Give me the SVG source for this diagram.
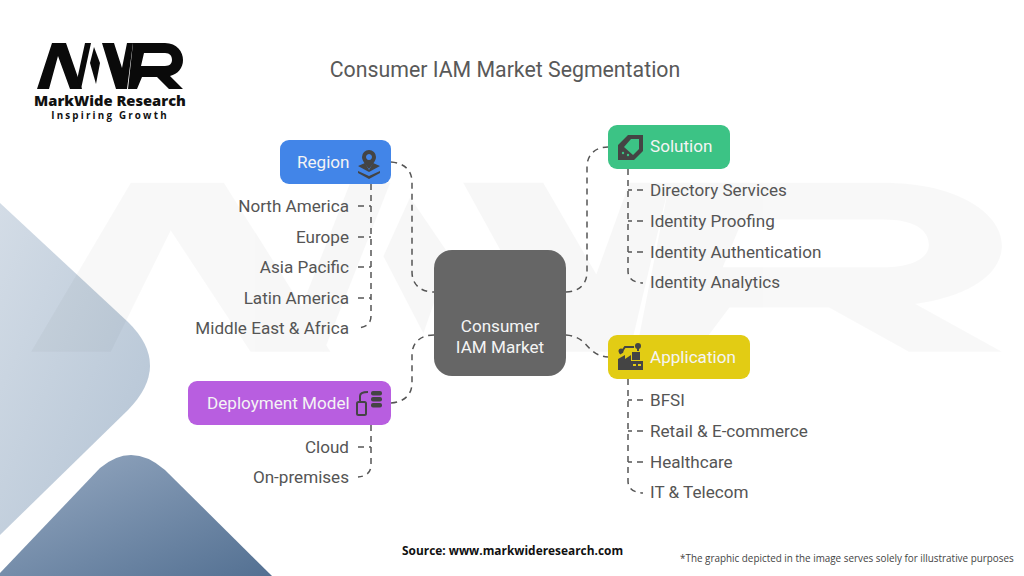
<svg xmlns="http://www.w3.org/2000/svg" width="1024" height="576" viewBox="0 0 1024 576">
<style>
text{font-family:Roboto,"Liberation Sans",sans-serif}
.lab{font-size:17.1px;fill:#555}
.r{text-anchor:end}
.hd{font-size:17.1px;fill:#f4f4f4}
.c{stroke:#555;stroke-width:1.5;fill:none;stroke-dasharray:6 5}
.i{fill:#444}
.is{fill:none;stroke:#444;stroke-width:2}
</style>
<defs>
<linearGradient id="g1" x1="0" y1="0" x2="1" y2="1"><stop offset="0" stop-color="#d3dce6"/><stop offset="1" stop-color="#b3c3d4"/></linearGradient>
<linearGradient id="g2" x1="0" y1="0" x2="1" y2="1"><stop offset="0" stop-color="#97aac2"/><stop offset="1" stop-color="#537092"/></linearGradient>
<g id="mark">
<path d="M37 89L52 43H66L82 89H70L58 56L49 89Z"/>
<path d="M77 80L85 43H91L81 89Z"/>
<path d="M94 47L100 63L96 84L90 63Z"/>
<path d="M102 43H114L122 68L127 43H133L127 89H116Z"/>
<path fill-rule="evenodd" d="M133 43H165C177 43 183 52 183 60C183 68 178 74 170 76L183 89H169L157 77H142L137 89H128ZM144 53L141 66H165C170 66 172 63 172 60C172 56 170 53 165 53Z"/>
</g>
</defs>
<rect width="1024" height="576" fill="#fff"/>
<g id="background">
<path d="M0 203L128 322Q172 365 128 410L0 535Z" fill="url(#g1)"/>
<path d="M0 573L100 468Q132 441 165 470L272 576H0Z" fill="url(#g2)"/>
<use href="#mark" transform="translate(-215 25) scale(6.65 3.67)" fill="#000" opacity=".028"/>
</g>
<g id="logo">
<use href="#mark" fill="#0a0a0a"/>
<text x="110" y="105.500" text-anchor="middle" font-size="14.700" font-weight="800" fill="#111" style="font-family:'Open Sans',sans-serif">MarkWide Research</text>
<text x="110" y="119" text-anchor="middle" font-size="9.800" font-weight="700" fill="#111" letter-spacing="2.200" style="font-family:'Open Sans',sans-serif">Inspiring Growth</text>
</g>
<text id="title" x="505" y="77" text-anchor="middle" font-size="21.300" fill="#595959">Consumer IAM Market Segmentation</text>
<g id="connectors">
<path class="c" d="M391 162C404 163 412 170 412 182V272C412 284 420 292 434 292"/>
<path class="c" d="M391 403C404 402 412 395 412 383V355C412 343 420 335 434 335"/>
<path class="c" d="M566 292C579 292 587 284 587 272V167C587 155 595 147 608 147"/>
<path class="c" d="M566 335C590 337 585 355 608 357"/>
<path class="c" d="M371 184V316Q371 327 358 328"/>
<path class="c" d="M358 206H371M358 237H371M358 267H371M358 298H371"/>
<path class="c" d="M371 425V465Q371 476 358 477"/>
<path class="c" d="M358 447H371"/>
<path class="c" d="M628 169V271Q628 282 643 283"/>
<path class="c" d="M643 190H628M643 221H628M643 252H628"/>
<path class="c" d="M628 379V481Q628 492 643 493"/>
<path class="c" d="M643 400H628M643 431H628M643 462H628"/>
</g>
<g id="center">
<rect x="434" y="250" width="132" height="126" rx="18" fill="#666"/>
<text class="hd" x="500" y="332" text-anchor="middle">Consumer</text>
<text class="hd" x="500" y="353" text-anchor="middle">IAM Market</text>
</g>
<g id="region">
<rect x="280" y="140" width="111" height="44" rx="9" fill="#4285e8"/>
<text class="hd" x="297" y="168">Region</text>
<path class="i" fill-rule="evenodd" d="M369 150a7 7 0 0 1 7 7c0 4-4 8-7 12c-3-4-7-8-7-12a7 7 0 0 1 7-7zM369 154a3 3 0 1 0 .01 0z"/>
<path class="i" d="M358 166L365 163L369 170L373 163L380 166L369 172ZM358 171L369 176L380 171V173L369 179L358 173Z"/>
</g>
<g id="region-items">
<text class="lab r" x="349" y="212">North America</text>
<text class="lab r" x="349" y="243">Europe</text>
<text class="lab r" x="349" y="273">Asia Pacific</text>
<text class="lab r" x="349" y="304">Latin America</text>
<text class="lab r" x="349" y="334">Middle East &amp; Africa</text>
</g>
<g id="deployment">
<rect x="188" y="381" width="203" height="44" rx="9" fill="#b85ee0"/>
<text class="hd" x="207" y="409">Deployment Model</text>
<rect x="357" y="402" width="9" height="13" rx="1.5" class="is"/>
<path class="is" d="M360 401V396Q360 392 368 392"/>
<rect x="371" y="391" width="11" height="4.500" rx="2" class="i"/>
<rect x="371" y="397" width="11" height="4.500" rx="2" class="i"/>
<rect x="371" y="403" width="11" height="4.500" rx="2" class="i"/>
</g>
<g id="deployment-items">
<text class="lab r" x="349" y="453">Cloud</text>
<text class="lab r" x="349" y="483">On-premises</text>
</g>
<g id="solution">
<rect x="608" y="125" width="122" height="44" rx="9" fill="#3cc385"/>
<text class="hd" x="650" y="152">Solution</text>
<path class="i" fill-rule="evenodd" d="M628 135H643V151L634 160H618V145ZM631 139L624 147L633 155L639 149V139Z"/>
<circle cx="623" cy="153" r="1.200" fill="#3cc385"/><circle cx="628" cy="155" r="1.200" fill="#3cc385"/>
</g>
<g id="solution-items">
<text class="lab" x="650" y="196">Directory Services</text>
<text class="lab" x="650" y="227">Identity Proofing</text>
<text class="lab" x="650" y="258">Identity Authentication</text>
<text class="lab" x="650" y="288">Identity Analytics</text>
</g>
<g id="application">
<rect x="608" y="335" width="142" height="44" rx="9" fill="#e2cc14"/>
<text class="hd" x="650" y="363">Application</text>
<path class="i" d="M618 370V359L625 355V359L631 355V361H643V370Z"/>
<rect x="632" y="352" width="8" height="8" class="i"/>
<path class="is" d="M620 354L625 347H634M638 346V351"/>
<circle cx="638" cy="346" r="3" class="i"/><circle cx="621" cy="351" r="2.500" class="i"/>
<rect x="633" y="364" width="3" height="2" fill="#e2cc14"/><rect x="638" y="364" width="3" height="2" fill="#e2cc14"/>
</g>
<g id="application-items">
<text class="lab" x="650" y="406">BFSI</text>
<text class="lab" x="650" y="437">Retail &amp; E-commerce</text>
<text class="lab" x="650" y="468">Healthcare</text>
<text class="lab" x="650" y="498">IT &amp; Telecom</text>
</g>
<g id="footer">
<text x="402" y="555" font-size="11.900" font-weight="700" fill="#111" style="font-family:'Open Sans',sans-serif">Source: www.markwideresearch.com</text>
<text x="680" y="562" font-size="9.900" fill="#444" style="font-family:'Open Sans',sans-serif">*The graphic depicted in the image serves solely for illustrative purposes</text>
</g>
</svg>
